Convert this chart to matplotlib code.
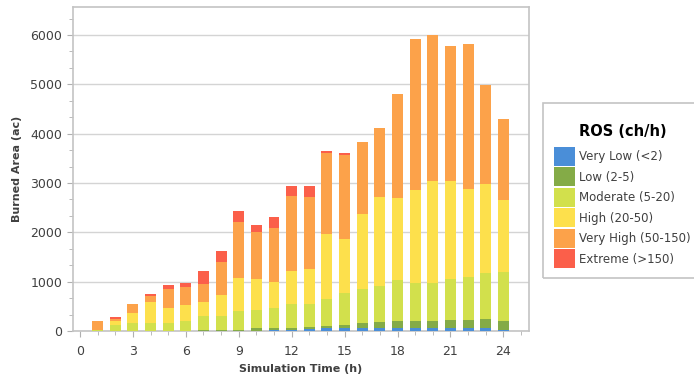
import numpy as np
import matplotlib
matplotlib.use('Agg')
import matplotlib.pyplot as plt
from matplotlib.ticker import MultipleLocator
from matplotlib.patches import Patch, Rectangle

# simulation hours
hours = np.arange(1, 25)

# burned area per ROS class (ac)
very_low = [0, 0, 0, 0, 0, 0, 0, 0, 0, 10, 25, 25, 45, 55, 68, 68, 68, 68, 68, 68, 68, 68, 68, 15]
low = [0, 0, 0, 0, 0, 0, 20, 25, 30, 55, 30, 40, 43, 53, 54, 88, 121, 141, 141, 141, 155, 155, 175, 189]
moderate = [30, 122, 156, 156, 156, 209, 280, 280, 380, 371, 405, 479, 459, 541, 642, 689, 723, 825, 770, 770, 837, 865, 926, 993]
high = [0, 85, 215, 438, 304, 318, 290, 426, 656, 629, 540, 675, 716, 1317, 1107, 1533, 1798, 1656, 1879, 2061, 1980, 1784, 1811, 1467]
very_high = [175, 45, 176, 116, 385, 371, 359, 675, 1148, 946, 1094, 1515, 1447, 1649, 1703, 1460, 1398, 2114, 3061, 2960, 2737, 2945, 2006, 1642]
extreme = [0, 25, 0, 40, 87, 81, 269, 223, 223, 148, 217, 202, 229, 40, 41, 0, 0, 0, 0, 0, 0, 0, 0, 0]

labels = ['Very Low (<2)', 'Low (2-5)', 'Moderate (5-20)', 'High (20-50)',
          'Very High (50-150)', 'Extreme (>150)']
colors = ['#4a8ed8', '#84ab47', '#d2e04c', '#fde04c', '#fca24a', '#fb5f4a']
series = [very_low, low, moderate, high, very_high, extreme]

fig = plt.figure(figsize=(6.94, 3.81), dpi=100)
ax = fig.add_axes([0.1045, 0.131, 0.6582, 0.8497])

bottom = np.zeros(len(hours))
for vals, col in zip(series, colors):
    vals = np.array(vals, dtype=float)
    ax.bar(hours, vals, width=0.62, bottom=bottom, color=col, linewidth=0, zorder=3)
    bottom += vals

ax.set_xlim(-0.42, 25.47)
ax.set_ylim(0, 6560)
ax.xaxis.set_major_locator(MultipleLocator(3))
ax.xaxis.set_minor_locator(MultipleLocator(1))
ax.yaxis.set_major_locator(MultipleLocator(1000))
ax.yaxis.set_minor_locator(MultipleLocator(1000 / 3))
ax.grid(axis='y', which='major', color='#d4d4d4', linewidth=1, zorder=0)

for s in ax.spines.values():
    s.set_color('#c4c4c4')
    s.set_linewidth(1.2)
ax.tick_params(which='both', color='#b0b0b0', direction='out', labelsize=9,
               labelcolor='#404040')
ax.tick_params(which='major', length=4)
ax.tick_params(which='minor', length=3)
ax.tick_params(axis='x', pad=6)

ax.set_xlabel('Simulation Time (h)', fontsize=8, fontweight='bold', color='#404040', labelpad=4)
ax.set_ylabel('Burned Area (ac)', fontsize=8, fontweight='bold', color='#404040', labelpad=6)

# legend frame drawn by hand, it runs off the right edge like in the original
fig.patches.append(Rectangle((543 / 694, 1 - 278 / 381), 0.25, 175 / 381,
                             transform=fig.transFigure, fill=False,
                             edgecolor='#c4c4c4', linewidth=1.2))

handles = [Patch(facecolor=c, edgecolor='none') for c in colors]
leg = fig.legend(handles, labels, title='ROS (ch/h)', loc='upper left',
                 bbox_to_anchor=(543 / 694, 1 - 113 / 381, 0.23, 0), mode='expand',
                 fontsize=8.5,
                 title_fontproperties={'weight': 'bold', 'size': 10.5},
                 frameon=False,
                 handlelength=1.8, handleheight=2.1, handletextpad=0.35,
                 labelspacing=0.125, borderpad=0.9, borderaxespad=0)
leg._legend_box.sep = 6
for t in leg.get_texts():
    t.set_color('#404040')

fig.savefig('out.png', dpi=100)
